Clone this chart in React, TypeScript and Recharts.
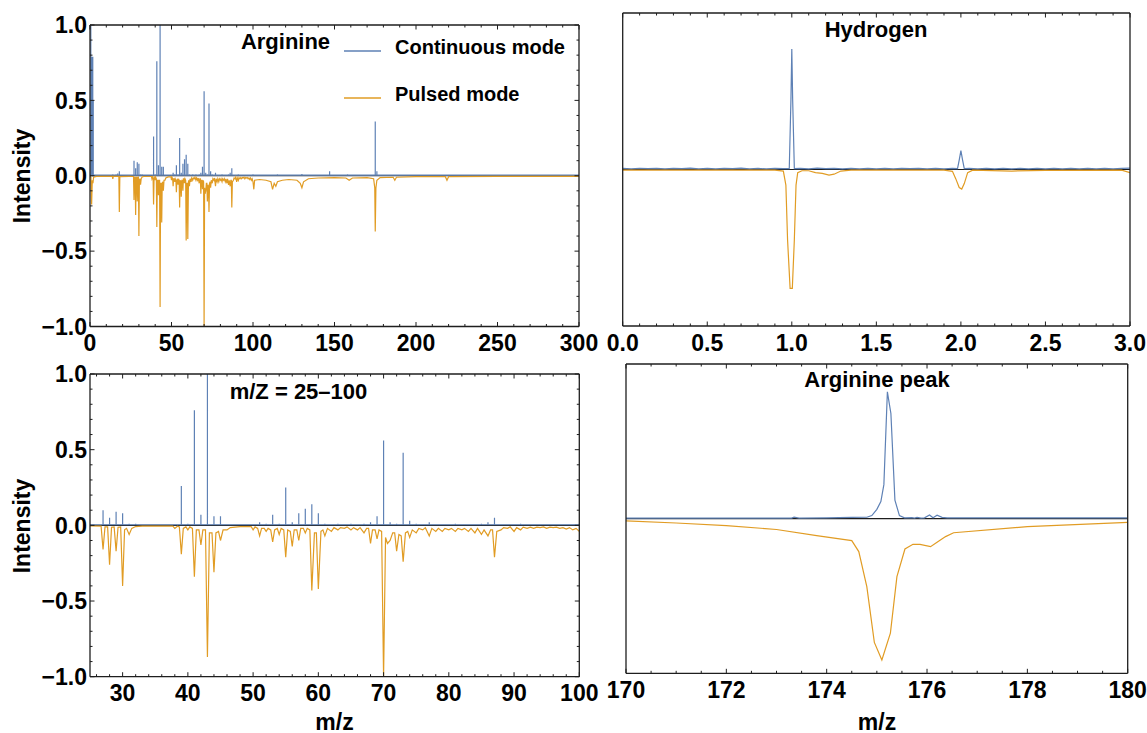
import React from 'react';
import { LineChart, Line, XAxis, YAxis, ReferenceLine, Legend } from 'recharts';

type Pt = [number, number];

const BLUE = '#5E81B5';
const ORANGE = '#E19C24';
const FRAME = '#1e1e1e';
const FONT = '"Liberation Sans", Arial, Helvetica, sans-serif';

// survey spectrum of arginine, continuous mode: stick m/z and height
const argContPeaks: Pt[] = [
  [0, 0.004], [0.5, 1.0], [0.8, 0.3], [1.1, 0.79], [1.4, 0.79], [1.7, 0.79], [2.0, 0.5],
  [5, 0.006], [10, 0.006], [14, 0.01], [16, 0.01], [17, 0.015], [18, 0.03], [20, 0.008], [24, 0.008],
  [27, 0.1], [28, 0.05], [29, 0.09], [30, 0.08], [31, 0.01], [32, 0.01], [33, 0.008], [38, 0.005],
  [39, 0.26], [40, 0.01], [41, 0.76], [42, 0.07], [43, 1.0], [44, 0.06], [45, 0.06], [46, 0.005], [50, 0.005],
  [51, 0.02], [52, 0.01], [53, 0.07], [54, 0.01], [55, 0.25], [56, 0.02], [57, 0.08], [58, 0.11],
  [59, 0.14], [60, 0.08], [61, 0.01], [63, 0.01], [65, 0.01], [67, 0.01], [68, 0.02], [69, 0.06],
  [70, 0.56], [71, 0.02], [72, 0.01], [73, 0.48], [74, 0.03], [75, 0.01], [77, 0.02], [81, 0.01],
  [85, 0.01], [86, 0.02], [87, 0.05], [91, 0.01], [100, 0.01], [110, 0.008], [115, 0.01], [120, 0.006],
  [130, 0.012], [140, 0.006], [147, 0.03], [158, 0.01], [165, 0.006], [175, 0.36], [176, 0.03],
  [190, 0.006], [205, 0.006], [220, 0.008], [230, 0.005], [300, 0.004],
];
const argContBase = 0.004;

// survey spectrum of arginine, pulsed mode profile
const argPulsed: Pt[] = [
  [0, -0.004], [0.6, -0.01], [1.0, -0.19], [1.4, -0.03], [1.8, -0.05], [2.2, -0.01], [4, -0.004],
  [13.7, -0.004], [14, -0.02], [14.3, -0.004], [17.7, -0.004], [18, -0.24], [18.3, -0.006], [24, -0.004],
  [26.7, -0.005], [27, -0.16], [27.3, -0.01], [27.7, -0.01], [28, -0.26], [28.3, -0.012], [28.7, -0.01],
  [29, -0.17], [29.3, -0.012], [29.7, -0.01], [30, -0.4], [30.3, -0.03], [30.6, -0.02], [31, -0.06],
  [31.4, -0.02], [32, -0.008], [33, -0.005], [37.7, -0.005], [38, -0.02], [38.4, -0.006], [38.7, -0.01],
  [39, -0.19], [39.3, -0.02], [39.7, -0.01], [40, -0.03], [40.3, -0.01], [40.7, -0.02], [41, -0.34],
  [41.3, -0.03], [41.7, -0.03], [42, -0.13], [42.3, -0.03], [42.7, -0.03], [43, -0.87], [43.3, -0.05],
  [43.7, -0.05], [44, -0.31], [44.3, -0.05], [44.7, -0.04], [45, -0.1], [45.4, -0.03], [46, -0.03],
  [46.5, -0.015], [48, -0.008], [49.7, -0.008], [50, -0.03], [50.3, -0.01], [50.7, -0.02], [51, -0.07],
  [51.3, -0.02], [51.7, -0.02], [52, -0.04], [52.3, -0.02], [52.7, -0.03], [53, -0.11], [53.3, -0.03],
  [53.7, -0.02], [54, -0.06], [54.3, -0.02], [54.7, -0.03], [55, -0.21], [55.3, -0.03], [55.7, -0.04],
  [56, -0.14], [56.3, -0.03], [56.7, -0.03], [57, -0.1], [57.3, -0.02], [57.7, -0.02], [58, -0.05],
  [58.3, -0.02], [58.7, -0.03], [59, -0.43], [59.4, -0.05], [59.7, -0.05], [60, -0.42], [60.4, -0.04],
  [60.7, -0.03], [61, -0.07], [61.4, -0.02], [62, -0.04], [62.4, -0.015], [63, -0.03], [63.4, -0.015],
  [64, -0.02], [64.4, -0.01], [65, -0.03], [65.4, -0.015], [66, -0.03], [66.4, -0.015], [67, -0.05],
  [67.4, -0.02], [67.7, -0.02], [68, -0.12], [68.3, -0.03], [68.7, -0.03], [69, -0.09], [69.3, -0.03],
  [69.7, -0.04], [70, -1.0], [70.3, -0.08], [70.6, -0.12], [71, -0.1], [71.4, -0.05], [71.7, -0.05],
  [72, -0.17], [72.35, -0.06], [72.7, -0.07], [73, -0.24], [73.35, -0.05], [73.7, -0.04], [74, -0.08],
  [74.4, -0.03], [75, -0.05], [75.4, -0.02], [76, -0.03], [76.4, -0.015], [77, -0.07], [77.4, -0.02],
  [78, -0.04], [78.4, -0.02], [79, -0.04], [79.4, -0.02], [80, -0.03], [80.4, -0.02], [81, -0.04],
  [81.4, -0.02], [82, -0.03], [82.4, -0.02], [83, -0.04], [83.4, -0.02], [84, -0.05], [84.4, -0.02],
  [85, -0.06], [85.4, -0.03], [86, -0.07], [86.4, -0.03], [86.7, -0.03], [87, -0.21], [87.35, -0.04],
  [88, -0.03], [88.4, -0.015], [89, -0.02], [89.4, -0.01], [90, -0.04], [90.4, -0.015], [91, -0.03],
  [91.4, -0.012], [92, -0.02], [92.5, -0.012], [93, -0.02], [93.5, -0.012], [94, -0.015], [94.5, -0.01],
  [95, -0.02], [95.5, -0.012], [96, -0.015], [96.5, -0.012], [97, -0.02], [97.5, -0.015], [98, -0.025],
  [98.5, -0.015], [99, -0.03], [99.5, -0.02], [100, -0.04], [100.5, -0.09], [101, -0.03], [104, -0.025],
  [108, -0.03], [111, -0.04], [112, -0.09], [113, -0.05], [114, -0.07], [115, -0.04], [118, -0.03],
  [122, -0.025], [127, -0.03], [129, -0.05], [130, -0.08], [131, -0.04], [134, -0.02], [140, -0.015],
  [150, -0.012], [157, -0.015], [159, -0.03], [161, -0.015], [170, -0.012], [174, -0.02], [174.7, -0.08],
  [175, -0.37], [175.4, -0.08], [176, -0.03], [178, -0.012], [186, -0.01], [187, -0.03], [188, -0.01],
  [200, -0.006], [218, -0.006], [219, -0.03], [220, -0.006], [250, -0.004], [300, -0.004],
];

// hydrogen region
const h2Cont: Pt[] = [
  [0, 0.007], [0.05, 0.004], [0.1, 0.008], [0.15, 0.005], [0.2, 0.007], [0.25, 0.004], [0.3, 0.007],
  [0.35, 0.005], [0.4, 0.009], [0.45, 0.004], [0.5, 0.007], [0.55, 0.004], [0.6, 0.007], [0.65, 0.005],
  [0.7, 0.009], [0.75, 0.004], [0.8, 0.007], [0.85, 0.004], [0.9, 0.007], [0.95, 0.005], [0.985, 0.005],
  [0.995, 0.45], [1.0, 0.77], [1.005, 0.45], [1.015, 0.005], [1.05, 0.007], [1.1, 0.004], [1.15, 0.009],
  [1.2, 0.005], [1.25, 0.007], [1.3, 0.004], [1.35, 0.007], [1.4, 0.004], [1.45, 0.007], [1.5, 0.004],
  [1.55, 0.007], [1.6, 0.004], [1.65, 0.007], [1.7, 0.005], [1.75, 0.007], [1.8, 0.004], [1.85, 0.007],
  [1.9, 0.004], [1.95, 0.007], [1.98, 0.005], [1.99, 0.06], [2.0, 0.12], [2.01, 0.06], [2.02, 0.005],
  [2.05, 0.007], [2.1, 0.004], [2.15, 0.007], [2.2, 0.004], [2.25, 0.007], [2.3, 0.004], [2.35, 0.007],
  [2.4, 0.004], [2.45, 0.007], [2.5, 0.004], [2.55, 0.007], [2.6, 0.004], [2.65, 0.007], [2.7, 0.004],
  [2.75, 0.007], [2.8, 0.004], [2.85, 0.007], [2.9, 0.004], [2.95, 0.007], [3.0, 0.009],
];
const h2Pulsed: Pt[] = [
  [0, -0.004], [0.5, -0.004], [0.9, -0.004], [0.95, -0.01], [0.965, -0.1], [0.975, -0.45], [0.99, -0.76],
  [1.003, -0.76], [1.015, -0.45], [1.025, -0.1], [1.035, -0.02], [1.06, -0.008], [1.1, -0.008],
  [1.14, -0.02], [1.18, -0.025], [1.22, -0.036], [1.25, -0.03], [1.29, -0.01], [1.35, -0.004],
  [1.9, -0.004], [1.95, -0.012], [1.97, -0.06], [1.99, -0.115], [2.005, -0.125], [2.02, -0.09],
  [2.04, -0.02], [2.07, -0.004], [2.3, -0.01], [2.5, -0.005], [2.95, -0.004], [3.0, -0.02],
];

// arginine molecular peak region
const peakCont: Pt[] = [
  [170, 0.004], [171, 0.004], [172, 0.004], [173, 0.004], [173.3, 0.004], [173.35, 0.01], [173.45, 0.004],
  [174, 0.005], [174.5, 0.008], [174.8, 0.009], [174.9, 0.02], [175.0, 0.06], [175.08, 0.11],
  [175.14, 0.22], [175.21, 0.82], [175.28, 0.68], [175.36, 0.12], [175.45, 0.02], [175.55, 0.005],
  [175.7, 0.006], [175.75, 0.004], [175.8, 0.008], [175.88, 0.003], [175.95, 0.005], [176.05, 0.024],
  [176.12, 0.006], [176.2, 0.022], [176.3, 0.008], [176.4, 0.005], [177, 0.005], [178, 0.005],
  [179, 0.005], [180, 0.005],
];
const peakPulsed: Pt[] = [
  [170, -0.015], [171, -0.028], [172, -0.045], [173, -0.07], [173.8, -0.11], [174.5, -0.142],
  [174.64, -0.213], [174.8, -0.44], [174.95, -0.8], [175.1, -0.914], [175.27, -0.74], [175.4, -0.375],
  [175.56, -0.196], [175.72, -0.166], [175.86, -0.166], [176.07, -0.181], [176.2, -0.153],
  [176.37, -0.116], [176.53, -0.091], [178, -0.052], [180, -0.024],
];

// tick positions
const yTicks = [-1, -0.9, -0.8, -0.7, -0.6, -0.5, -0.4, -0.3, -0.2, -0.1, 0, 0.1, 0.2, 0.3, 0.4, 0.5, 0.6, 0.7, 0.8, 0.9, 1];
const xTicksSurvey = [0, 10, 20, 30, 40, 50, 60, 70, 80, 90, 100, 110, 120, 130, 140, 150, 160, 170, 180, 190, 200, 210, 220, 230, 240, 250, 260, 270, 280, 290, 300];
const xTicksZoom = [26, 28, 30, 32, 34, 36, 38, 40, 42, 44, 46, 48, 50, 52, 54, 56, 58, 60, 62, 64, 66, 68, 70, 72, 74, 76, 78, 80, 82, 84, 86, 88, 90, 92, 94, 96, 98, 100];
const xTicksH = [0, 0.1, 0.2, 0.3, 0.4, 0.5, 0.6, 0.7, 0.8, 0.9, 1, 1.1, 1.2, 1.3, 1.4, 1.5, 1.6, 1.7, 1.8, 1.9, 2, 2.1, 2.2, 2.3, 2.4, 2.5, 2.6, 2.7, 2.8, 2.9, 3];
const xTicksPeak = [170, 170.5, 171, 171.5, 172, 172.5, 173, 173.5, 174, 174.5, 175, 175.5, 176, 176.5, 177, 177.5, 178, 178.5, 179, 179.5, 180];

const toRows = (pts: Pt[]) => pts.map(([mz, v]) => ({ mz, v }));
const sticks = (pts: Pt[], base: number) =>
  pts.flatMap(([mz, h]) => [{ mz, v: base }, { mz, v: h }, { mz, v: base }]);

const multipleOf = (step: number) => (v: number) => Math.abs(v / step - Math.round(v / step)) < 1e-6;
const fmtInt = (v: number) => String(Math.round(v));
const fmtDec = (v: number) => v.toFixed(1).replace('-', '\u2212');

const MAJOR = 4.5;
const MINOR = 2.5;
const tickText = { fontFamily: FONT, fontSize: 23, fontWeight: 700, fill: '#000' };

type Side = 'bottom' | 'top' | 'left' | 'right';

// axis bands are 1px thick (recharts skips 0-sized axes), so the tick origin sits on the frame
const makeTick = (side: Side, isMajor: (v: number) => boolean, fmt?: (v: number) => string) =>
  (p: any) => {
    const x = p.x ?? 0;
    const y = p.y ?? 0;
    const value = p.payload?.value ?? 0;
    const major = isMajor(value);
    const len = major ? MAJOR : MINOR;
    let mark;
    if (side === 'bottom') mark = <line x1={x} x2={x} y1={y} y2={y - len} stroke={FRAME} />;
    else if (side === 'top') mark = <line x1={x} x2={x} y1={y} y2={y + len} stroke={FRAME} />;
    else if (side === 'left') mark = <line x1={x} x2={x + len} y1={y} y2={y} stroke={FRAME} />;
    else mark = <line x1={x} x2={x - len} y1={y} y2={y} stroke={FRAME} />;
    let label = null;
    if (major && fmt && side === 'bottom')
      label = <text x={x} y={y + 24.5} textAnchor="middle" {...tickText}>{fmt(value)}</text>;
    if (major && fmt && side === 'left')
      label = <text x={x - 3} y={y + 8.2} textAnchor="end" {...tickText}>{fmt(value)}</text>;
    return <g>{mark}{label}</g>;
  };

const LegendBox = (props: any) => {
  const items = props.payload ?? [];
  return (
    <svg width={240} height={80} style={{ overflow: 'visible', display: 'block' }}>
      {items.map((e: any, i: number) => (
        <g key={e.value}>
          <line x1={0} x2={37} y1={20 + i * 47} y2={20 + i * 47} stroke={e.color} strokeWidth={1.5} />
          <text x={51} y={16 + i * 47} dominantBaseline="central"
            fontFamily={FONT} fontSize={20} fontWeight={700} fill="#000">
            {e.value}
          </text>
        </g>
      ))}
    </svg>
  );
};

interface PanelProps {
  width: number;
  height: number;
  plot: { top: number; right: number; bottom: number; left: number };
  xDomain: [number, number];
  xTicks: number[];
  xMajor: (v: number) => boolean;
  xFmt: (v: number) => string;
  yLabels: boolean;
  cont: { mz: number; v: number }[];
  pulsed: { mz: number; v: number }[];
  legend?: boolean;
}

const Panel = ({ width, height, plot, xDomain, xTicks, xMajor, xFmt, yLabels, cont, pulsed, legend }: PanelProps) => {
  const yMajor = multipleOf(0.5);
  const axisLine = { stroke: FRAME, strokeWidth: 1.3 };
  const margin = { top: plot.top - 1, right: plot.right - 1, bottom: plot.bottom - 1, left: plot.left - 1 };
  return (
    <LineChart width={width} height={height} margin={margin}>
      <XAxis xAxisId="b" type="number" dataKey="mz" domain={xDomain} allowDataOverflow ticks={xTicks}
        interval={0} height={1} tickSize={0} tickMargin={0} tickLine={false} axisLine={axisLine}
        tick={makeTick('bottom', xMajor, xFmt)} />
      <XAxis xAxisId="t" orientation="top" type="number" dataKey="mz" domain={xDomain} allowDataOverflow
        ticks={xTicks} interval={0} height={1} tickSize={0} tickMargin={0} tickLine={false} axisLine={axisLine}
        tick={makeTick('top', xMajor)} />
      <YAxis yAxisId="l" type="number" domain={[-1, 1]} allowDataOverflow ticks={yTicks}
        interval={0} width={1} tickSize={0} tickMargin={0} tickLine={false} axisLine={axisLine}
        tick={yLabels ? makeTick('left', yMajor, fmtDec) : false} />
      <YAxis yAxisId="r" orientation="right" type="number" domain={[-1, 1]} allowDataOverflow
        ticks={yTicks} interval={0} width={1} tickSize={0} tickMargin={0} tickLine={false}
        axisLine={axisLine} tick={yLabels ? makeTick('right', yMajor) : false} />
      <ReferenceLine xAxisId="b" yAxisId="l" y={0} stroke={FRAME} strokeWidth={1.2} />
      <Line xAxisId="b" yAxisId="l" data={cont} dataKey="v" name="Continuous mode" type="linear"
        stroke={BLUE} strokeWidth={1.2} dot={false} activeDot={false} isAnimationActive={false} />
      <Line xAxisId="b" yAxisId="l" data={pulsed} dataKey="v" name="Pulsed mode" type="linear"
        stroke={ORANGE} strokeWidth={1.2} dot={false} activeDot={false} isAnimationActive={false} />
      {legend && (
        <Legend content={LegendBox} layout="horizontal" verticalAlign="middle" align="center"
          wrapperStyle={{ left: 344, top: 30.7, width: 240, height: 80 }} />
      )}
    </LineChart>
  );
};

const textStyle: React.CSSProperties = {
  position: 'absolute',
  fontFamily: FONT,
  fontWeight: 700,
  color: '#000',
  lineHeight: 1,
  whiteSpace: 'nowrap',
  transform: 'translate(-50%, -50%)',
};

const Title = ({ x, y, size, children }: { x: number; y: number; size: number; children: React.ReactNode }) => (
  <div style={{ ...textStyle, left: x, top: y, fontSize: size }}>{children}</div>
);

const VLabel = ({ x, y, children }: { x: number; y: number; children: React.ReactNode }) => (
  <div style={{ ...textStyle, left: x, top: y, fontSize: 23, transform: 'translate(-50%, -50%) rotate(-90deg)' }}>
    {children}
  </div>
);

const App = () => {
  const surveyCont = sticks(argContPeaks, argContBase);
  const surveyPulsed = toRows(argPulsed);
  return (
    <div style={{ position: 'absolute', left: 0, top: 0, width: 1147, height: 733, background: '#fff', overflow: 'hidden' }}>
      <div style={{ position: 'absolute', left: 0, top: 0 }}>
        <Panel width={600} height={360} plot={{ top: 25, right: 21, bottom: 33.5, left: 90 }}
          xDomain={[0, 300]} xTicks={xTicksSurvey} xMajor={multipleOf(50)} xFmt={fmtInt} yLabels
          cont={surveyCont} pulsed={surveyPulsed} legend />
      </div>
      <div style={{ position: 'absolute', left: 600, top: 0 }}>
        <Panel width={547} height={360} plot={{ top: 13, right: 17, bottom: 34, left: 22.7 }}
          xDomain={[0, 3]} xTicks={xTicksH} xMajor={multipleOf(0.5)} xFmt={fmtDec} yLabels={false}
          cont={toRows(h2Cont)} pulsed={toRows(h2Pulsed)} />
      </div>
      <div style={{ position: 'absolute', left: 0, top: 360 }}>
        <Panel width={600} height={373} plot={{ top: 14, right: 20.7, bottom: 56.3, left: 90 }}
          xDomain={[25, 100]} xTicks={xTicksZoom} xMajor={multipleOf(10)} xFmt={fmtInt} yLabels
          cont={surveyCont} pulsed={surveyPulsed} />
      </div>
      <div style={{ position: 'absolute', left: 600, top: 360 }}>
        <Panel width={547} height={373} plot={{ top: 4, right: 19.3, bottom: 59.7, left: 26 }}
          xDomain={[170, 180]} xTicks={xTicksPeak} xMajor={multipleOf(2)} xFmt={fmtInt} yLabels={false}
          cont={toRows(peakCont)} pulsed={toRows(peakPulsed)} />
      </div>

      <Title x={285.5} y={42} size={22}>Arginine</Title>
      <Title x={876} y={29.5} size={22}>Hydrogen</Title>
      <Title x={298.5} y={392} size={22}>m/Z = 25–100</Title>
      <Title x={877} y={380} size={22}>Arginine peak</Title>

      <VLabel x={22} y={175.5}>Intensity</VLabel>
      <VLabel x={22} y={525.5}>Intensity</VLabel>
      <Title x={334.5} y={722} size={23}>m/z</Title>
      <Title x={877} y={722} size={23}>m/z</Title>
    </div>
  );
};

export default App;
